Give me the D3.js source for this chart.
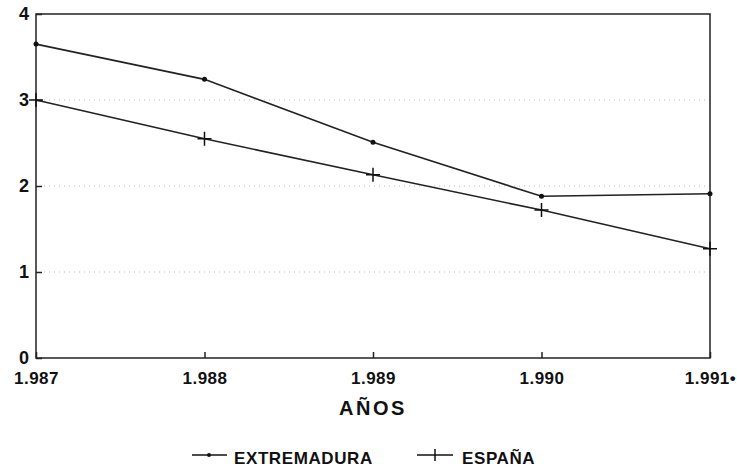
<!DOCTYPE html>
<html>
<head>
<meta charset="utf-8">
<script src="https://cdn.jsdelivr.net/npm/d3@7"></script>
<style>
  body { margin: 0; background: #fff; }
  text { font-family: "Liberation Sans", Arial, sans-serif; font-weight: bold; fill: #111; }
</style>
</head>
<body>
<div id="chart"></div>
<script>
var width = 737;
var height = 469;

var years = [1987, 1988, 1989, 1990, 1991];
var yearLabels = ["1.987", "1.988", "1.989", "1.990", "1.991\u2022"];
var extremadura = [3.65, 3.24, 2.51, 1.88, 1.91];
var espana = [3.0, 2.55, 2.13, 1.72, 1.27];
var yTicks = [0, 1, 2, 3, 4];

var margin = { left: 36, right: 27, top: 14, bottom: 111 };

var x = d3.scaleLinear().domain([1987, 1991]).range([margin.left, width - margin.right]);
var y = d3.scaleLinear().domain([0, 4]).range([height - margin.bottom, margin.top]);

var svg = d3.select("#chart").append("svg")
  .attr("width", width)
  .attr("height", height);

// faint dotted gridlines
svg.append("g")
  .selectAll("line")
  .data([1, 2, 3])
  .enter().append("line")
  .attr("x1", x(1987) + 8)
  .attr("x2", x(1991))
  .attr("y1", function(d) { return y(d); })
  .attr("y2", function(d) { return y(d); })
  .attr("stroke", "#bbb")
  .attr("stroke-width", 1)
  .attr("stroke-dasharray", "1,4");

// frame
svg.append("rect")
  .attr("x", x(1987))
  .attr("y", y(4))
  .attr("width", x(1991) - x(1987))
  .attr("height", y(0) - y(4))
  .attr("fill", "none")
  .attr("stroke", "#222")
  .attr("stroke-width", 1.5);

var yAxis = d3.axisLeft(y).tickValues(yTicks).tickSize(-6).tickPadding(7).tickFormat(d3.format("d"));
var gy = svg.append("g").attr("transform", "translate(" + x(1987) + ",0)").call(yAxis);
gy.select(".domain").remove();
gy.selectAll("line").attr("stroke", "#222").attr("stroke-width", 1.5);
gy.selectAll("text").style("font-size", "18px").attr("fill", "#111");

var xAxis = d3.axisBottom(x).tickValues(years).tickSize(-6).tickPadding(14)
  .tickFormat(function(d, i) { return yearLabels[i]; });
var gx = svg.append("g").attr("transform", "translate(0," + y(0) + ")").call(xAxis);
gx.select(".domain").remove();
gx.selectAll("line").attr("stroke", "#222").attr("stroke-width", 1.5);
gx.selectAll("text").style("font-size", "17px").style("letter-spacing", "0.5px").attr("fill", "#111");

var line = d3.line()
  .x(function(d, i) { return x(years[i]); })
  .y(function(d) { return y(d); });

svg.append("path")
  .datum(extremadura)
  .attr("d", line)
  .attr("fill", "none")
  .attr("stroke", "#222")
  .attr("stroke-width", 1.6);

svg.append("path")
  .datum(espana)
  .attr("d", line)
  .attr("fill", "none")
  .attr("stroke", "#222")
  .attr("stroke-width", 1.6);

svg.append("g")
  .selectAll("circle")
  .data(extremadura)
  .enter().append("circle")
  .attr("cx", function(d, i) { return x(years[i]); })
  .attr("cy", function(d) { return y(d); })
  .attr("r", 2.5)
  .attr("fill", "#111");

svg.append("g")
  .selectAll("path")
  .data(espana)
  .enter().append("path")
  .attr("transform", function(d, i) { return "translate(" + x(years[i]) + "," + y(d) + ")"; })
  .attr("d", "M-7,0H7M0,-7V7")
  .attr("stroke", "#111")
  .attr("stroke-width", 1.5);

svg.append("text")
  .attr("x", x(1989))
  .attr("y", 415)
  .attr("text-anchor", "middle")
  .style("font-size", "20px")
  .style("letter-spacing", "2.5px")
  .text("AÑOS");

// legend
var legend = svg.append("g");
legend.append("line").attr("x1", 192).attr("x2", 227).attr("y1", 455).attr("y2", 455)
  .attr("stroke", "#111").attr("stroke-width", 1.5);
legend.append("circle").attr("cx", 209).attr("cy", 455).attr("r", 2).attr("fill", "#111");
legend.append("text").attr("x", 234).attr("y", 464).style("font-size", "17px")
  .style("letter-spacing", "0.6px").text("EXTREMADURA");

legend.append("line").attr("x1", 417).attr("x2", 453).attr("y1", 455).attr("y2", 455)
  .attr("stroke", "#111").attr("stroke-width", 1.5);
legend.append("path").attr("d", "M435,449V461").attr("stroke", "#111").attr("stroke-width", 1.5);
legend.append("text").attr("x", 462).attr("y", 464).style("font-size", "17px")
  .style("letter-spacing", "0.6px").text("ESPAÑA");
</script>
</body>
</html>
